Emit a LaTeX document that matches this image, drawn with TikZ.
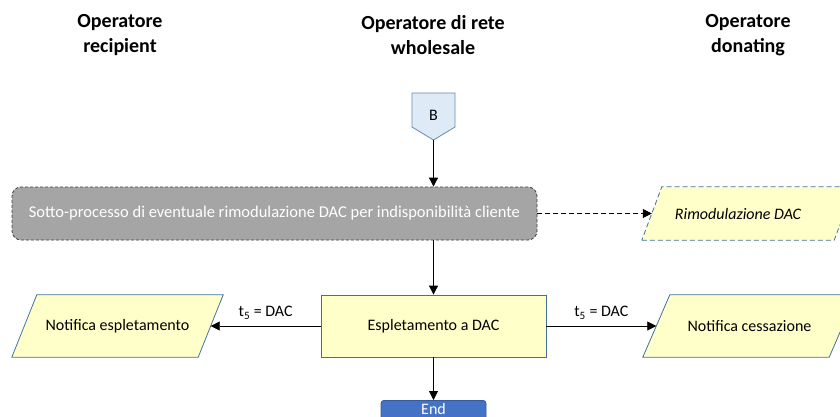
\documentclass[tikz,border=0pt]{standalone}
\usepackage{fontspec}
\setmainfont{Carlito}
\usetikzlibrary{arrows.meta,calc}
\definecolor{yel}{HTML}{FFFFC9}
\definecolor{bord}{HTML}{41719C}
\definecolor{grayfill}{HTML}{A5A5A5}
\definecolor{bfill}{HTML}{DEEBF7}
\definecolor{endfill}{HTML}{4472C4}
\tikzset{
  hdr/.style={font=\fontsize{20}{25}\selectfont\bfseries, align=center},
  txt/.style={font=\fontsize{16}{19}\selectfont},
  parabody/.style={rectangle, draw=none, txt, inner sep=0pt},
  paraline/.style={draw=bord, fill=yel, line width=0.8pt},
  procbox/.style={rectangle, draw=bord, fill=yel, line width=0.8pt, txt, inner sep=0pt},
  arr/.style={-{Triangle[length=9pt,width=9pt]}, line width=0.8pt},
  lbl/.style={txt}
}
% parallelogram behind a named node: #2 node name, #3 slant
\newcommand{\paraback}[3][]{%
  \path[paraline,#1] ($(#2.south west)$) -- ($(#2.south east)+(-#3,0)$) -- ($(#2.north east)$) -- ($(#2.north west)+(#3,0)$) -- cycle;}
\begin{document}
\begin{tikzpicture}[x=1pt,y=-1pt]
\useasboundingbox (0,0) rectangle (840,417);
\fill[white] (0,0) rectangle (840,417);
% headers
\node[hdr] (h1) at (120,35) {Operatore\\recipient};
\node[hdr] (h2) at (433,35) {Operatore di rete\\wholesale};
\node[hdr] (h3) at (748,35) {Operatore\\donating};
% B off-page connector
\draw[draw=bord!80, fill=bfill, line width=0.8pt] (412,93) -- (455,93) -- (455,127) -- (433.5,140) -- (412,127) -- cycle;
\node[txt] (B) at (433.5,115) {B};
\coordinate (Bb) at (433.5,140);
% subprocess
\node[rectangle, rounded corners=9pt, draw=black!75, dash pattern=on 3pt off 2pt, fill=grayfill, line width=0.8pt,
      minimum width=525pt, minimum height=53pt, inner sep=0pt, font=\fontsize{16.5}{19}\selectfont, text=white] (sp) at (274.5,213.5)
      {Sotto-processo di eventuale rimodulazione DAC per indisponibilità cliente};
% rimodulazione
\node[parabody, minimum width=212pt, minimum height=53pt] (rim) at (748,213.5) {};
\paraback[dash pattern=on 5pt off 3pt]{rim}{20}
\node[txt, font=\fontsize{16}{19}\selectfont\itshape] (rimt) at ($(rim.center)+(-10,0)$) {Rimodulazione DAC};
\coordinate (rimw) at ($(rim.west)+(10,0)$);
% espletamento
\node[procbox, minimum width=225pt, minimum height=62pt] (esp) at (433.5,326) {Espletamento a DAC};
% notifica espletamento
\node[parabody, minimum width=211pt, minimum height=62pt] (ne) at (117.5,326) {};
\paraback{ne}{25}
\node[txt] (net) at (ne.center) {Notifica espletamento};
\coordinate (nee) at ($(ne.east)+(-12.5,0)$);
% notifica cessazione
\node[parabody, minimum width=213pt, minimum height=62pt] (nc) at (749.5,326) {};
\paraback{nc}{27}
\node[txt] (nct) at (nc.center) {Notifica cessazione};
\coordinate (ncw) at ($(nc.west)+(13.5,0)$);
% end
\node[rectangle, rounded corners=3pt, draw=endfill!80!black, fill=endfill, line width=0.8pt,
      minimum width=105pt, minimum height=34pt, inner sep=0pt, anchor=north, text=white] (end) at (433.5,400) {};
\node[txt, text=white, anchor=base] (endt) at (433.5,414) {End};
% connectors
\draw[arr] (Bb) -- (sp.north -| Bb);
\draw[arr, dash pattern=on 5pt off 3pt] (sp.east) -- (rimw);
\draw[arr] (sp.south -| esp.north) -- (esp.north);
\draw[arr] (esp.west) -- (nee) node[lbl, midway, above=3pt] {t\textsubscript{5} = DAC};
\draw[arr] (esp.east) -- (ncw) node[lbl, midway, above=3pt] {t\textsubscript{5} = DAC};
\draw[arr] (esp.south) -- (end.north);
\end{tikzpicture}
\end{document}
